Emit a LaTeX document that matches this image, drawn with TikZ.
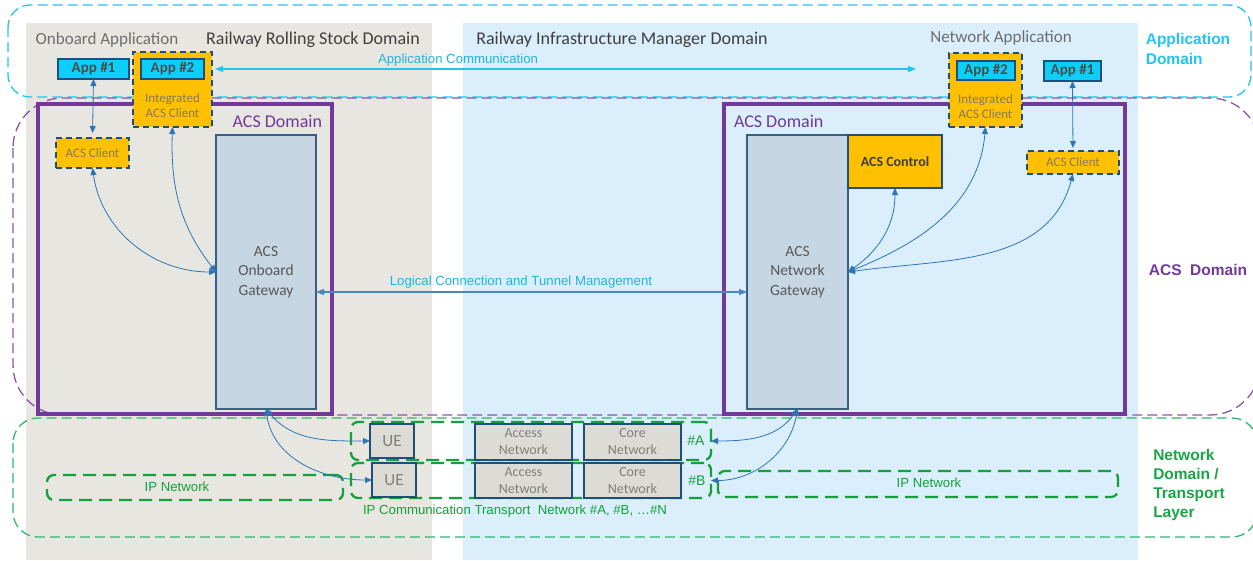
\documentclass[tikz,border=0pt]{standalone}
\usepackage{fontspec}
\setmainfont{Carlito}
\newfontfamily\arialf{Liberation Sans}
\usetikzlibrary{arrows.meta}
\definecolor{bggray}{HTML}{E7E6E1}
\definecolor{bgblue}{HTML}{DAEEFB}
\definecolor{cyanl}{HTML}{1FC6F0}
\definecolor{cyantxt}{HTML}{22B4E0}
\definecolor{purp}{HTML}{71399A}
\definecolor{greenl}{HTML}{2DB86A}
\definecolor{greend}{HTML}{14A03C}
\definecolor{dblue}{HTML}{1F4E79}
\definecolor{gwfill}{HTML}{C6D6E3}
\definecolor{orng}{HTML}{FFC000}
\definecolor{appcyan}{HTML}{0BCFF8}
\definecolor{arrblue}{HTML}{2E75B6}
\definecolor{lcblue}{HTML}{4A86C0}
\definecolor{txtgray}{HTML}{595959}
\definecolor{hdrgray}{HTML}{3F3F3F}
\definecolor{ltgray}{HTML}{6E6E6E}
\definecolor{netgray}{HTML}{7F7F7F}
\definecolor{clienttxt}{HTML}{857A5C}
\definecolor{boxgray}{HTML}{DCDBD5}
\newcommand\fsz[2]{\fontsize{#1}{#2}\selectfont}
\begin{document}
\begin{tikzpicture}[x=1pt,y=-1pt,
  every node/.style={inner sep=0pt, outer sep=0pt},
  appbox/.style={draw=dblue, line width=2pt, fill=appcyan, font=\fsz{15}{17}\bfseries, text=txtgray!85!black},
  clientbox/.style={draw=dblue, line width=2.4pt, dash pattern=on 6pt off 4pt, fill=orng, text=clienttxt, align=center, font=\fsz{13}{15}},
  gwbox/.style={draw=dblue!90!white, line width=1.8pt, fill=gwfill, text=txtgray, align=center, font=\fsz{15.5}{19.5}},
  netbox/.style={draw=dblue, line width=1.8pt, fill=boxgray, text=netgray, align=center, font=\fsz{14}{17}},
  trbox/.style={draw=greend, line width=2.3pt, dash pattern=on 13pt off 7pt, rounded corners=7pt},
  dom/.style={line width=1.3pt, dash pattern=on 10pt off 5pt},
  acsrect/.style={draw=purp, line width=3.5pt},
  link/.style={draw=arrblue, line width=0.8pt, {Triangle[length=7pt,width=6pt]}-{Triangle[length=7pt,width=6pt]}},
  lbl/.style={font=\arialf\fsz{13.2}{15}},
  domlbl/.style={font=\arialf\bfseries\fsz{15.5}{19.3}, align=left},
]
\useasboundingbox (0,0) rectangle (1253,560);
% backgrounds
\fill[bggray] (26,23) rectangle (432,560);
\fill[bgblue] (463,23) rectangle (1138,560);
% domain outlines
\draw[dom, draw=cyanl, rounded corners=22pt] (8,5) rectangle (1251,97);
\draw[dom, draw=purp!85!white, rounded corners=50pt] (13,98) rectangle (1260,415);
\draw[dom, draw=greenl, rounded corners=25pt] (13,418) rectangle (1257,537);
% domain labels
\node[domlbl, text=cyanl] (lblapp) at (1188,49) {Application\\Domain};
\node[domlbl, text=purp] (lblacs) at (1198,270) {ACS\ \ Domain};
\node[domlbl, text=greend!80!greenl] (lblnet) at (1189,485) {Network\\Domain /\\Transport\\Layer};
% headers
\node[text=ltgray, font=\fsz{17}{20}] (onbapp) at (107,40) {Onboard Application};
\node[text=hdrgray, font=\fsz{18}{20}] (rsdom) at (313,40) {Railway Rolling Stock Domain};
\node[text=hdrgray, font=\fsz{18}{20}] (imdom) at (622,40) {Railway Infrastructure Manager Domain};
\node[text=ltgray, font=\fsz{17}{20}] (netapp) at (1001,38) {Network Application};
% ACS domain rectangles
\node[acsrect, minimum width=294pt, minimum height=310pt] (acsL) at (185,259) {};
\node[acsrect, minimum width=401pt, minimum height=310pt] (acsR) at (924.5,259) {};
\node[text=purp, font=\fsz{18}{20}, anchor=east] (acsLl) at (322,121) {ACS Domain};
\node[text=purp, font=\fsz{18}{20}, anchor=west] (acsRl) at (734,121) {ACS Domain};
% left side boxes
\node[appbox, minimum width=71pt, minimum height=20pt] (app1L) at (93.5,69) {App \#1};
\node[clientbox, minimum width=79pt, minimum height=75pt] (intL) at (172.5,89.5) {};
\node[appbox, minimum width=63pt, minimum height=20pt] (app2L) at (172.5,69) {App \#2};
\node[text=clienttxt, align=center, font=\fsz{13}{15}] (intLt) at (172.5,106) {Integrated\\ACS Client};
\node[clientbox, minimum width=73pt, minimum height=30pt] (clientL) at (92.5,153) {ACS Client};
\node[gwbox, minimum width=100pt, minimum height=274pt] (gwL) at (266,272) {ACS\\Onboard\\Gateway};
% right side boxes
\node[gwbox, minimum width=101pt, minimum height=274pt] (gwR) at (797.5,272) {ACS\\Network\\Gateway};
\node[draw=dblue, line width=2pt, fill=orng, minimum width=94pt, minimum height=53pt, font=\fsz{14}{16}\bfseries, text=txtgray!70!black] (ctrl) at (895,161.5) {ACS Control};
\node[clientbox, minimum width=73pt, minimum height=74pt] (intR) at (985.5,90) {};
\node[appbox, minimum width=58pt, minimum height=19pt] (app2R) at (986,70.5) {App \#2};
\node[text=clienttxt, align=center, font=\fsz{13}{15}] (intRt) at (985.5,107) {Integrated\\ACS Client};
\node[appbox, minimum width=57pt, minimum height=20pt] (app1R) at (1072.5,71) {App \#1};
\node[clientbox, minimum width=92pt, minimum height=23pt] (clientR) at (1073,162.5) {ACS Client};
% transport boxes
\node[trbox, minimum width=360pt, minimum height=38pt] (netA) at (531,441) {};
\node[trbox, minimum width=360pt, minimum height=35pt] (netB) at (531,480.5) {};
\node[netbox, minimum width=44pt, minimum height=34pt, font=\fsz{17}{19}] (ueA) at (392,441) {UE};
\node[netbox, minimum width=44pt, minimum height=34pt, font=\fsz{17}{19}] (ueB) at (394,480) {UE};
\node[netbox, minimum width=97pt, minimum height=36pt] (accA) at (523.5,442) {Access\\Network};
\node[netbox, minimum width=97pt, minimum height=35pt] (accB) at (523.5,480.5) {Access\\Network};
\node[netbox, minimum width=97pt, minimum height=36pt] (coreA) at (632.5,442) {Core\\Network};
\node[netbox, minimum width=97pt, minimum height=35pt] (coreB) at (632.5,480.5) {Core\\Network};
\node[text=greend, font=\arialf\fsz{14}{16}] (hA) at (696,441) {\#A};
\node[text=greend, font=\arialf\fsz{14}{16}] (hB) at (697,481) {\#B};
\node[trbox, minimum width=296pt, minimum height=25pt] (ipL) at (195,487.5) {};
\node[lbl, text=greend] (ipLt) at (177,487) {IP Network};
\node[trbox, minimum width=400pt, minimum height=26pt] (ipR) at (918,484) {};
\node[lbl, text=greend] (ipRt) at (929,483) {IP Network};
\node[lbl, text=greend] (iptr) at (515,511) {IP Communication Transport\ \ Network \#A, \#B, …\#N};
% application communication
\coordinate (acL) at (215,69);
\coordinate (acR) at (916,69);
\draw[draw=cyanl, line width=1.3pt, {Triangle[length=8pt,width=6pt]}-{Triangle[length=8pt,width=6pt]}] (acL) -- (acR);
\node[lbl, text=cyantxt] (actxt) at (458,60) {Application Communication};
% logical connection
\coordinate (lc) at (0,292);
\draw[draw=lcblue, line width=1.3pt, {Triangle[length=8pt,width=6pt]}-{Triangle[length=8pt,width=6pt]}] (gwL.east |- lc) -- (gwR.west |- lc);
\node[lbl, text=cyantxt] (lctxt) at (521,282) {Logical Connection and Tunnel Management};
% links left
\draw[link, shorten >=5pt] (app1L.south) -- (clientL.north);
\draw[link] (clientL.south) to[out=-82, in=180] (gwL.west);
\draw[link] (intL.south) to[out=-92, in=128] (gwL.west);
% links right
\draw[link, shorten >=3pt] (app1R.south) -- (clientR.north);
\draw[link] (gwR.east) to[out=35, in=-90] (ctrl.south);
\draw[link] (gwR.east) to[out=22, in=-95] (intR.south);
\draw[link] (gwR.east) to[out=8, in=-105] (clientR.south);
% links bottom
\draw[link] (gwL.south) to[out=-50, in=180] (ueA.west);
\draw[link] (gwL.south) to[out=-82, in=180] (ueB.west);
\draw[link] (gwR.south) to[out=-125, in=0] (netA.east);
\draw[link] (gwR.south) to[out=-100, in=0] (netB.east);
\end{tikzpicture}
\end{document}
